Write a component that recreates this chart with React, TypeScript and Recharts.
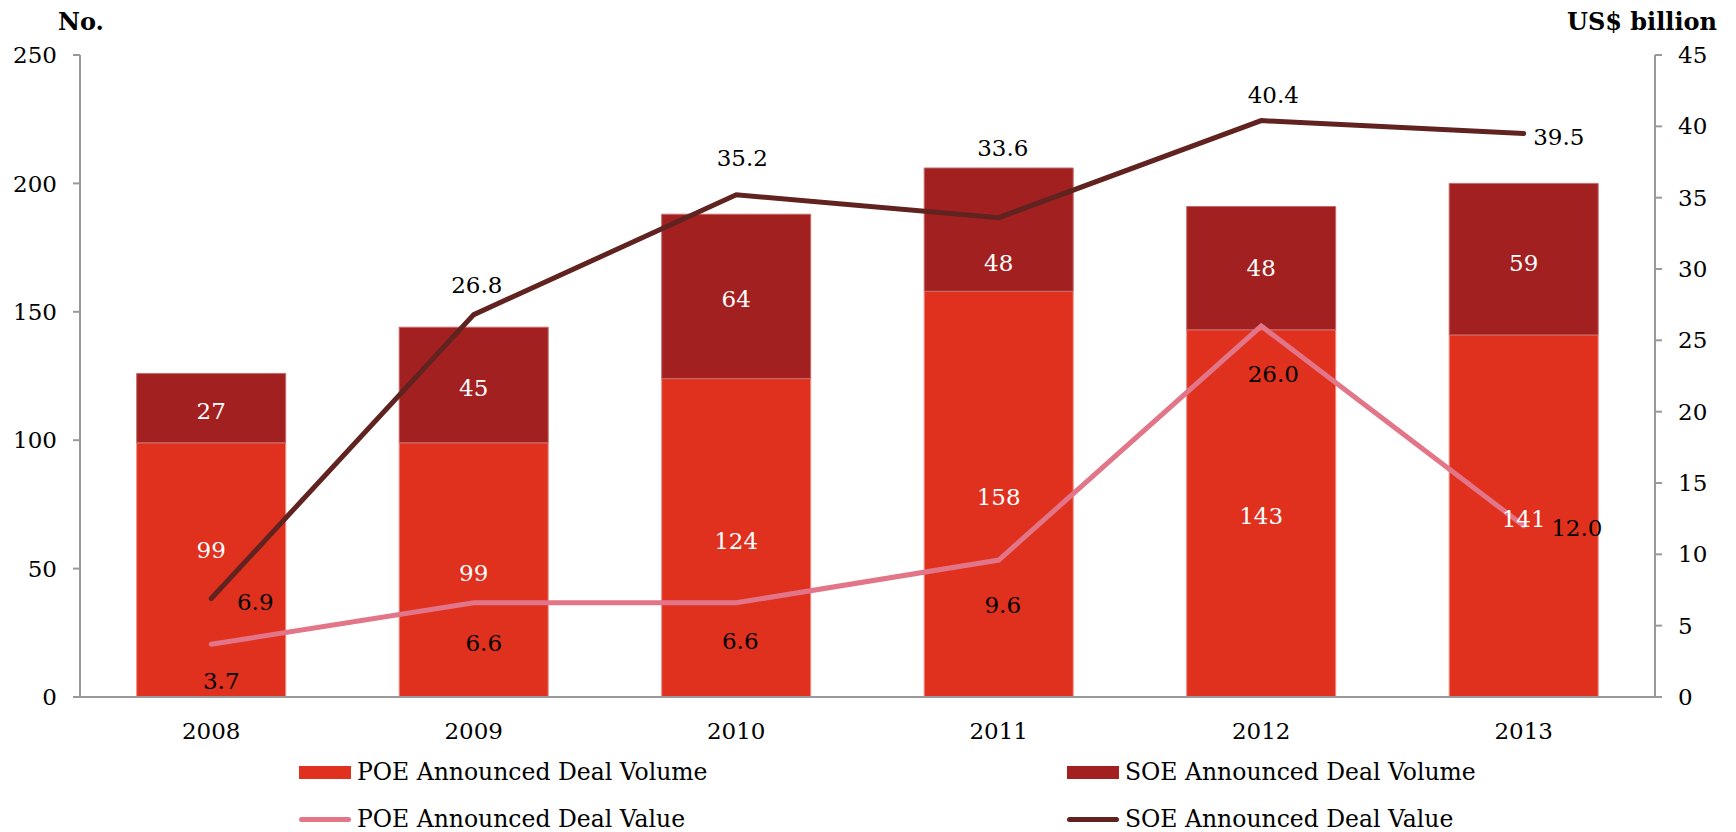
import React from "react";
import {
  ComposedChart,
  Bar,
  Line,
  XAxis,
  YAxis,
  Legend,
  LabelList,
} from "recharts";

const years = ["2008", "2009", "2010", "2011", "2012", "2013"];
const poeVolume = [99, 99, 124, 158, 143, 141];
const soeVolume = [27, 45, 64, 48, 48, 59];
const poeValue = [3.7, 6.6, 6.6, 9.6, 26.0, 12.0];
const soeValue = [6.9, 26.8, 35.2, 33.6, 40.4, 39.5];
const leftTicks = [0, 50, 100, 150, 200, 250];
const rightTicks = [0, 5, 10, 15, 20, 25, 30, 35, 40, 45];

const COLORS = {
  poeBar: "#e0301e",
  soeBar: "#a32020",
  poeLine: "#e27588",
  soeLine: "#602320",
  axis: "#999999",
};

const FONT = "'DejaVu Serif', serif";
const FS = 23;

// label offsets (dx, dy) for the line values, from the point
const poeLabelOffset = [
  [10, 37],
  [10, 40],
  [4, 38],
  [4, 45],
  [12, 48],
  [53, 2],
];
const soeLabelOffset = [
  [44, 3],
  [3, -30],
  [6, -37],
  [4, -70],
  [12, -26],
  [35, 4],
];
// vertical nudges for the bar labels, from the segment centre
const poeBarLabelDy = [-20, 3, 3, 3, 3, 3];
const soeBarLabelDy = [3, 3, 3, 33, 0, 4];

const data = years.map((year, i) => ({
  year,
  poeVolume: poeVolume[i],
  soeVolume: soeVolume[i],
  poeValue: poeValue[i],
  soeValue: soeValue[i],
}));

function lineLabel(offsets: number[][]) {
  return (props: any) => {
    const { x, y, value, index } = props;
    const [dx, dy] = offsets[index] || [0, 0];
    return (
      <text
        x={x + dx}
        y={y + dy}
        textAnchor="middle"
        dominantBaseline="central"
        fontFamily={FONT}
        fontSize={FS}
        fill="#000"
      >
        {Number(value).toFixed(1)}
      </text>
    );
  };
}

function barLabel(nudges: number[]) {
  return (props: any) => {
    const { x, y, width, height, value, index } = props;
    return (
      <text
        x={x + width / 2}
        y={y + height / 2 + (nudges[index] || 0)}
        textAnchor="middle"
        dominantBaseline="central"
        fontFamily={FONT}
        fontSize={FS}
        fill="#fff"
      >
        {value}
      </text>
    );
  };
}

const legendItems = [
  { name: "POE Announced Deal Volume", type: "bar", color: COLORS.poeBar, left: 291, top: 25 },
  { name: "SOE Announced Deal Volume", type: "bar", color: COLORS.soeBar, left: 1059, top: 25 },
  { name: "POE Announced Deal Value", type: "line", color: COLORS.poeLine, left: 291, top: 72 },
  { name: "SOE Announced Deal Value", type: "line", color: COLORS.soeLine, left: 1059, top: 72 },
];

function ChartLegend() {
  return (
    <div style={{ position: "relative", width: 1720, height: 85, fontFamily: FONT, fontSize: 23.5 }}>
      {legendItems.map((item) => (
        <div
          key={item.name}
          style={{
            position: "absolute",
            left: item.left,
            top: item.top,
            transform: "translateY(-50%)",
            display: "flex",
            alignItems: "center",
            whiteSpace: "nowrap",
          }}
        >
          {item.type === "bar" ? (
            <span style={{ width: 52, height: 13, background: item.color, marginRight: 6 }} />
          ) : (
            <span
              style={{ width: 52, height: 5, borderRadius: 3, background: item.color, marginRight: 6 }}
            />
          )}
          <span>{item.name}</span>
        </div>
      ))}
    </div>
  );
}

export default function App() {
  const tickStyle = { fontFamily: FONT, fontSize: FS, fill: "#000" };
  return (
    <ComposedChart
      width={1720}
      height={824}
      data={data}
      margin={{ top: 47, right: 0, bottom: 0, left: 0 }}
      barCategoryGap="21.6%"
    >
      <text x={73} y={22} textAnchor="middle" fontFamily={FONT} fontSize={24} fontWeight="bold">
        No.
      </text>
      <text x={1709} y={22} textAnchor="end" fontFamily={FONT} fontSize={24} fontWeight="bold">
        US$ billion
      </text>
      <XAxis
        dataKey="year"
        height={50}
        tickLine={false}
        tickMargin={20}
        axisLine={{ stroke: COLORS.axis, strokeWidth: 2 }}
        tick={tickStyle}
      />
      <YAxis
        yAxisId="left"
        width={72}
        domain={[0, 250]}
        ticks={leftTicks}
        interval={0}
        tickSize={7}
        tickMargin={16}
        axisLine={{ stroke: COLORS.axis, strokeWidth: 2 }}
        tickLine={{ stroke: COLORS.axis, strokeWidth: 2 }}
        tick={tickStyle}
      />
      <YAxis
        yAxisId="right"
        orientation="right"
        width={73}
        domain={[0, 45]}
        ticks={rightTicks}
        interval={0}
        tickSize={7}
        tickMargin={16}
        axisLine={{ stroke: COLORS.axis, strokeWidth: 2 }}
        tickLine={{ stroke: COLORS.axis, strokeWidth: 2 }}
        tick={tickStyle}
      />
      <Legend
        verticalAlign="bottom"
        content={() => <ChartLegend />}
        wrapperStyle={{ height: 85, width: 1720, left: 0 }}
      />
      <Bar
        yAxisId="left"
        dataKey="poeVolume"
        stackId="vol"
        fill={COLORS.poeBar}
        stroke="#ee8a80"
        strokeWidth={1}
        isAnimationActive={false}
      >
        <LabelList dataKey="poeVolume" content={barLabel(poeBarLabelDy)} />
      </Bar>
      <Bar
        yAxisId="left"
        dataKey="soeVolume"
        stackId="vol"
        fill={COLORS.soeBar}
        stroke="#c46a6a"
        strokeWidth={1}
        isAnimationActive={false}
      >
        <LabelList dataKey="soeVolume" content={barLabel(soeBarLabelDy)} />
      </Bar>
      <Line
        yAxisId="right"
        dataKey="poeValue"
        stroke={COLORS.poeLine}
        strokeWidth={5}
        strokeLinecap="round"
        dot={false}
        activeDot={false}
        isAnimationActive={false}
      >
        <LabelList dataKey="poeValue" content={lineLabel(poeLabelOffset)} />
      </Line>
      <Line
        yAxisId="right"
        dataKey="soeValue"
        stroke={COLORS.soeLine}
        strokeWidth={5}
        strokeLinecap="round"
        dot={false}
        activeDot={false}
        isAnimationActive={false}
      >
        <LabelList dataKey="soeValue" content={lineLabel(soeLabelOffset)} />
      </Line>
    </ComposedChart>
  );
}
